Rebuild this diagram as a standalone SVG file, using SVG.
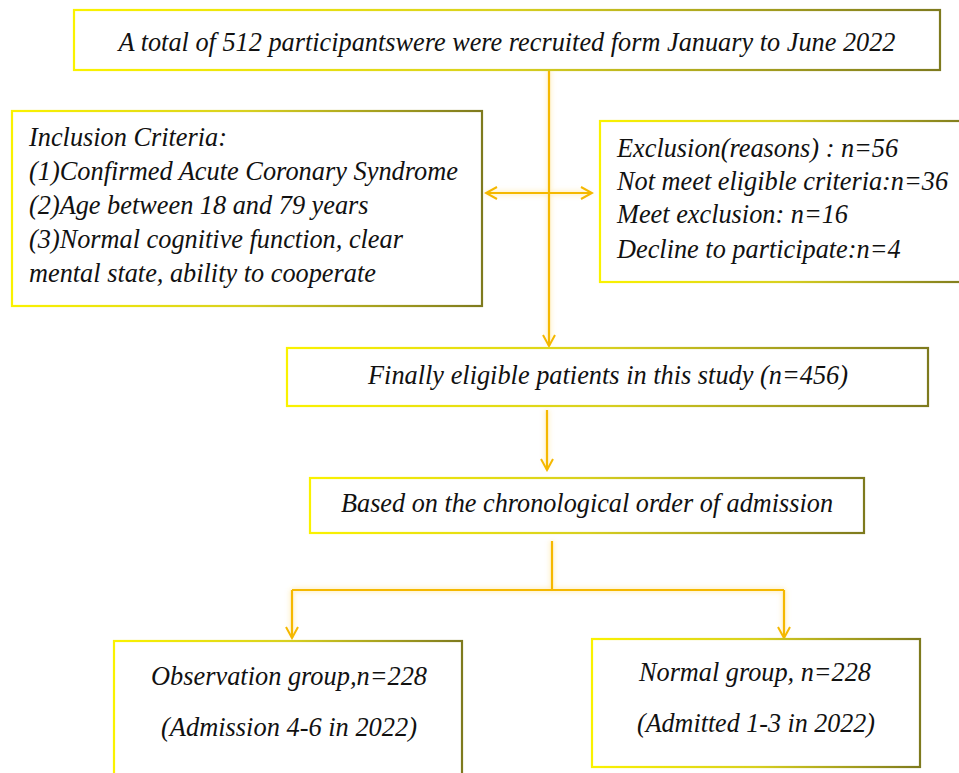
<svg xmlns="http://www.w3.org/2000/svg" width="959" height="773" viewBox="0 0 959 773">
<defs>
<linearGradient id="gb" x1="0" y1="0" x2="1" y2="0">
<stop offset="0" stop-color="#FAF200"/>
<stop offset="0.5" stop-color="#D8D020"/>
<stop offset="1" stop-color="#7E7A1E"/>
</linearGradient>
<marker id="ah" viewBox="0 0 14 14" refX="12" refY="7" markerWidth="14" markerHeight="14" markerUnits="userSpaceOnUse" orient="auto-start-reverse">
<path d="M1,1 L12,7 L1,13" fill="none" stroke="#F5B800" stroke-width="2"/>
</marker>
<filter id="glow" x="-20%" y="-20%" width="140%" height="140%">
<feGaussianBlur stdDeviation="2"/>
</filter>
</defs>
<style>
.box{fill:#fff;stroke:url(#gb);stroke-width:2.2}
.t{font-family:"Liberation Serif","Times New Roman",serif;font-style:italic;fill:#111;font-size:26.3px}
.b{font-size:27px}
.c{text-anchor:middle}
.ln{fill:none;stroke:#F5B800;stroke-width:2.2}
.gl{fill:none;stroke:#FBD46A;stroke-width:5;opacity:0.35}
</style>
<g id="connectors">
<g filter="url(#glow)">
<path class="gl" d="M549,70 V344 M486,193 H590 M547,410 V468 M552,541 V590 M292,590 H784 M292,590 V636 M784,590 V636"/>
</g>
<path class="ln" d="M549,70 V346" marker-end="url(#ah)"/>
<path class="ln" d="M486,193 H592" marker-start="url(#ah)" marker-end="url(#ah)"/>
<path class="ln" d="M547,410 V470" marker-end="url(#ah)"/>
<path class="ln" d="M552,541 V590 M292,590 H784"/>
<path class="ln" d="M292,590 V638" marker-end="url(#ah)"/>
<path class="ln" d="M784,590 V638" marker-end="url(#ah)"/>
</g>
<g id="top">
<rect class="box" x="74" y="10" width="866" height="60"/>
<text class="t b c" x="507" y="51" textLength="777" lengthAdjust="spacingAndGlyphs">A total of 512 participantswere were recruited form January to June 2022</text>
</g>
<g id="inclusion">
<rect class="box" x="12" y="111" width="470" height="195"/>
<text class="t" x="29" y="146">Inclusion Criteria:</text>
<text class="t" x="29" y="180" textLength="429" lengthAdjust="spacingAndGlyphs">(1)Confirmed Acute Coronary Syndrome</text>
<text class="t" x="29" y="214">(2)Age between 18 and 79 years</text>
<text class="t" x="29" y="248">(3)Normal cognitive function, clear</text>
<text class="t" x="29" y="282">mental state, ability to cooperate</text>
</g>
<g id="exclusion">
<rect class="box" x="600" y="121" width="370" height="161"/>
<text class="t" x="617" y="157">Exclusion(reasons) : n=56</text>
<text class="t" x="617" y="190">Not meet eligible criteria:n=36</text>
<text class="t" x="617" y="223">Meet exclusion: n=16</text>
<text class="t" x="617" y="258">Decline to participate:n=4</text>
</g>
<g id="eligible">
<rect class="box" x="287" y="348" width="641" height="58"/>
<text class="t c" x="608" y="384" textLength="480" lengthAdjust="spacingAndGlyphs">Finally eligible patients in this study (n=456)</text>
</g>
<g id="order">
<rect class="box" x="310" y="478" width="554" height="55"/>
<text class="t c" x="587" y="512" textLength="492" lengthAdjust="spacingAndGlyphs">Based on the chronological order of admission</text>
</g>
<g id="observation">
<rect class="box" x="114" y="641" width="348" height="140"/>
<text class="t b c" x="289" y="685" textLength="276" lengthAdjust="spacingAndGlyphs">Observation group,n=228</text>
<text class="t b c" x="289" y="736" textLength="256" lengthAdjust="spacingAndGlyphs">(Admission 4-6 in 2022)</text>
</g>
<g id="normal">
<rect class="box" x="592" y="639" width="328" height="128"/>
<text class="t b c" x="755" y="681" textLength="232" lengthAdjust="spacingAndGlyphs">Normal group, n=228</text>
<text class="t b c" x="756" y="732" textLength="238" lengthAdjust="spacingAndGlyphs">(Admitted 1-3 in 2022)</text>
</g>
</svg>
